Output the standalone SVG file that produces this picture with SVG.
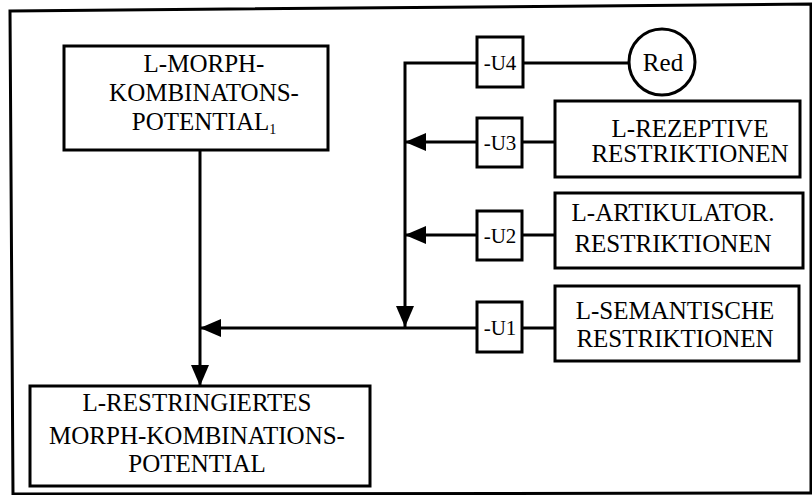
<svg xmlns="http://www.w3.org/2000/svg" width="812" height="495" viewBox="0 0 812 495">
<defs>
<marker id="ah" viewBox="0 0 21 18" refX="21" refY="9" markerWidth="21" markerHeight="18" markerUnits="userSpaceOnUse" orient="auto">
<path d="M0,0 L21,9 L0,18 z" fill="#000"/>
</marker>
</defs>
<style>
.box{fill:#fff;stroke:#000;stroke-width:3}
.ln{fill:none;stroke:#000;stroke-width:3}
.t{font-family:"Liberation Serif","Times New Roman",serif;font-size:25px;fill:#000;text-anchor:middle}
.u{font-family:"Liberation Serif","Times New Roman",serif;font-size:21px;fill:#000;text-anchor:middle}
</style>
<rect width="812" height="495" fill="#fff"/>
<polygon points="10,11 811,4 811,493 13,494" fill="none" stroke="#000" stroke-width="3"/>
<g id="connectors">
<line class="ln" x1="200" y1="150" x2="200" y2="386" marker-end="url(#ah)"/>
<line class="ln" x1="477" y1="328" x2="200" y2="328" marker-end="url(#ah)"/>
<line class="ln" x1="522" y1="328" x2="555" y2="328"/>
<polyline class="ln" points="477,63 405,63 405,327" marker-end="url(#ah)"/>
<line class="ln" x1="523" y1="63" x2="629" y2="63"/>
<line class="ln" x1="477" y1="142" x2="405" y2="142" marker-end="url(#ah)"/>
<line class="ln" x1="522" y1="142" x2="555" y2="142"/>
<line class="ln" x1="477" y1="235" x2="405" y2="235" marker-end="url(#ah)"/>
<line class="ln" x1="522" y1="235" x2="555" y2="235"/>
</g>
<g id="morph-potential">
<rect class="box" x="64" y="46" width="264" height="104"/>
<text class="t" x="204" y="72">L-MORPH-</text>
<text class="t" x="204" y="101">KOMBINATONS-</text>
<text class="t" x="204" y="130">POTENTIAL<tspan font-size="14" dy="4">1</tspan></text>
</g>
<g id="restr-potential">
<rect class="box" x="30" y="386" width="340" height="100"/>
<text class="t" x="197" y="411">L-RESTRINGIERTES</text>
<text class="t" x="197" y="444">MORPH-KOMBINATIONS-</text>
<text class="t" x="197" y="472">POTENTIAL</text>
</g>
<g id="u4">
<rect class="box" x="477" y="37" width="46" height="50"/>
<text class="u" x="500" y="70">-U4</text>
</g>
<g id="red">
<circle cx="662" cy="62" r="33" fill="#fff" stroke="#000" stroke-width="3"/>
<text class="t" x="663" y="71" font-size="26">Red</text>
</g>
<g id="u3">
<rect class="box" x="477" y="118" width="45" height="49"/>
<text class="u" x="500" y="150">-U3</text>
</g>
<g id="rezeptive">
<rect class="box" x="555" y="101" width="245" height="76"/>
<text class="t" x="690" y="137">L-REZEPTIVE</text>
<text class="t" x="690" y="162">RESTRIKTIONEN</text>
</g>
<g id="u2">
<rect class="box" x="477" y="211" width="45" height="49"/>
<text class="u" x="500" y="243">-U2</text>
</g>
<g id="artikulator">
<rect class="box" x="555" y="193" width="248" height="75"/>
<text class="t" x="673" y="221">L-ARTIKULATOR.</text>
<text class="t" x="673" y="252">RESTRIKTIONEN</text>
</g>
<g id="u1">
<rect class="box" x="477" y="302" width="45" height="50"/>
<text class="u" x="500" y="335">-U1</text>
</g>
<g id="semantische">
<rect class="box" x="555" y="286" width="244" height="75"/>
<text class="t" x="675" y="319">L-SEMANTISCHE</text>
<text class="t" x="675" y="347">RESTRIKTIONEN</text>
</g>
</svg>
